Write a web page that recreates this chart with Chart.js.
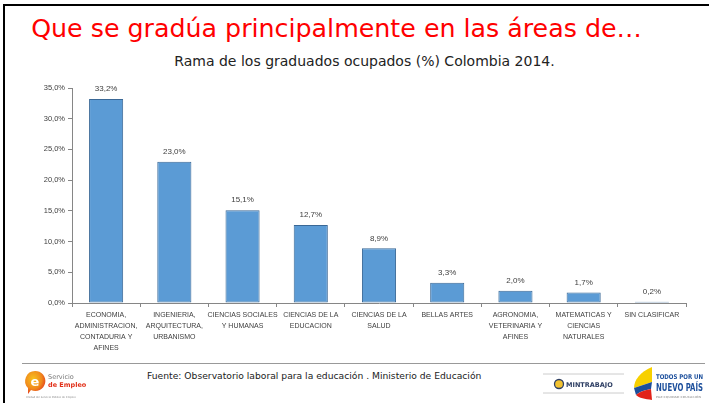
<!DOCTYPE html>
<html>
<head>
<meta charset="utf-8">
<title>Rama de los graduados ocupados</title>
<script src="https://cdn.jsdelivr.net/npm/chart.js"></script>
<style>
    body { margin: 0; width: 709px; height: 403px; background: #fff; position: relative; overflow: hidden; font-family: "DejaVu Sans", sans-serif; }
    .frame-top { position: absolute; left: 3px; top: 4px; width: 706px; height: 2px; background: #000; }
    .frame-left { position: absolute; left: 3px; top: 4px; width: 2px; height: 399px; background: #000; }
    .title { position: absolute; left: 0; width: 673px; top: 14px; text-align: center; color: #ff0000; font-size: 25.3px; white-space: nowrap; }
    .subtitle { position: absolute; left: 0; width: 729px; top: 53px; text-align: center; color: #222; font-size: 14px; white-space: nowrap; }
    #chartBox { position: absolute; left: 12px; top: 70px; width: 688px; height: 290px; }
    .footer-line { position: absolute; left: 22px; top: 363px; width: 683px; height: 1px; background: #999; }
    .source { position: absolute; left: 147px; top: 370px; font-size: 9.2px; color: #222; white-space: nowrap; }
    svg.logos { position: absolute; left: 0; top: 0; }
</style>
</head>
<body>
<div class="frame-top"></div>
<div class="frame-left"></div>
<div class="title">Que se gradúa principalmente en las áreas de…</div>
<div class="subtitle">Rama de los graduados ocupados (%) Colombia 2014.</div>
<div id="chartBox"><canvas id="ramaChart"></canvas></div>
<div class="footer-line"></div>
<div class="source">Fuente: Observatorio laboral para la educación . Ministerio de Educación</div>

<svg class="logos" width="709" height="403">
    <!-- Servicio de Empleo -->
    <defs>
        <radialGradient id="eGrad" cx="40%" cy="35%" r="70%">
            <stop offset="0%" stop-color="#f7c21e"/>
            <stop offset="60%" stop-color="#f08a1c"/>
            <stop offset="100%" stop-color="#e2321b"/>
        </radialGradient>
    </defs>
    <path d="M35 371 a10 10 0 1 1 -4 19 l-3 4 l0 -6 a10 10 0 0 1 7 -17 z" fill="url(#eGrad)"/>
    <text x="35" y="386" font-family="DejaVu Sans" font-weight="bold" font-size="13" fill="#fff" text-anchor="middle">e</text>
    <text x="48" y="379" font-family="DejaVu Sans" font-size="6.5" fill="#777">Servicio</text>
    <text x="48" y="387" font-family="DejaVu Sans" font-weight="bold" font-size="6.5" fill="#e2321b">de Empleo</text>
    <text x="26" y="398" font-family="DejaVu Sans" font-size="2.6" fill="#888">Unidad del Servicio Público de Empleo</text>

    <!-- MINTRABAJO -->
    <line x1="543" y1="374" x2="624" y2="374" stroke="#ccc" stroke-width="1"/>
    <line x1="543" y1="393" x2="624" y2="393" stroke="#ccc" stroke-width="1"/>
    <circle cx="559" cy="384" r="4.5" fill="#f2c230" stroke="#2d3e63" stroke-width="1.3"/>
    <text x="566" y="387" font-family="DejaVu Sans" font-weight="bold" font-size="6.5" fill="#2d3e63">MINTRABAJO</text>

    <!-- Todos por un nuevo país -->
    <path d="M652 367 C640 372 634 380 634 388 L652 382 Z" fill="#f7d000"/>
    <path d="M634 388 L652 382 L651 389 C645 390 639 392 636 395 Z" fill="#1c4f9c"/>
    <path d="M636 395 C639 392 645 390 651 389 L652 400 C645 399 639 398 636 395 Z" fill="#e2231a"/>
    <text x="656" y="379" font-family="DejaVu Sans Condensed, DejaVu Sans" font-weight="bold" font-size="6.5" fill="#1c4f9c" textLength="47" lengthAdjust="spacingAndGlyphs">TODOS POR UN</text>
    <text x="656" y="391" font-family="DejaVu Sans Condensed, DejaVu Sans" font-weight="bold" font-size="10" fill="#1c4f9c" textLength="47" lengthAdjust="spacingAndGlyphs">NUEVO PAÍS</text>
    <text x="656" y="398" font-family="DejaVu Sans" font-size="2.6" fill="#888" textLength="45" lengthAdjust="spacingAndGlyphs">PAZ  EQUIDAD  EDUCACIÓN</text>
</svg>

<script>
    // Categorías (etiquetas en varias líneas) y porcentajes
    const categorias = [
        ['ECONOMIA,', 'ADMINISTRACION,', 'CONTADURIA Y', 'AFINES'],
        ['INGENIERIA,', 'ARQUITECTURA,', 'URBANISMO'],
        ['CIENCIAS SOCIALES', 'Y HUMANAS'],
        ['CIENCIAS DE LA', 'EDUCACION'],
        ['CIENCIAS DE LA', 'SALUD'],
        ['BELLAS ARTES'],
        ['AGRONOMIA,', 'VETERINARIA Y', 'AFINES'],
        ['MATEMATICAS Y', 'CIENCIAS', 'NATURALES'],
        ['SIN CLASIFICAR']
    ];
    const porcentajes = [33.2, 23.0, 15.1, 12.7, 8.9, 3.3, 2.0, 1.7, 0.2];
    const ejeY = { min: 0, max: 35, paso: 5 };

    const fmt = v => v.toFixed(1).replace('.', ',') + '%';
    const chartFont = "'Liberation Sans', Arial, sans-serif";

    // Etiqueta de valor encima de cada barra
    const valueLabels = {
        id: 'valueLabels',
        afterDatasetsDraw(chart) {
            const ctx = chart.ctx;
            const meta = chart.getDatasetMeta(0);
            ctx.save();
            ctx.font = '8px ' + chartFont;
            ctx.fillStyle = '#404040';
            ctx.textAlign = 'center';
            ctx.textBaseline = 'bottom';
            meta.data.forEach((bar, i) => {
                ctx.fillText(fmt(porcentajes[i]), bar.x, bar.y - 6);
            });
            ctx.restore();
        }
    };

    new Chart(document.getElementById('ramaChart'), {
        type: 'bar',
        data: {
            labels: categorias,
            datasets: [{
                data: porcentajes,
                backgroundColor: '#5B9BD5',
                borderColor: '#3A6896',
                borderWidth: 1,
                borderSkipped: false,
                barPercentage: 0.5,
                categoryPercentage: 1.0
            }]
        },
        options: {
            responsive: true,
            maintainAspectRatio: false,
            animation: false,
            layout: { padding: { top: 18, right: 14 } },
            plugins: {
                legend: { display: false },
                tooltip: { enabled: false }
            },
            scales: {
                x: {
                    grid: { offset: true, drawOnChartArea: false, tickLength: 4, color: '#868686' },
                    border: { color: '#868686' },
                    ticks: {
                        autoSkip: false, maxRotation: 0, minRotation: 0, padding: 3,
                        color: '#404040',
                        font: { family: chartFont, size: 7, lineHeight: 1.55 }
                    },
                    afterFit(scale) { scale.height = 57; }
                },
                y: {
                    min: ejeY.min, max: ejeY.max,
                    grid: { drawOnChartArea: false, tickLength: 4, color: '#868686' },
                    border: { color: '#868686' },
                    ticks: {
                        stepSize: ejeY.paso, padding: 3, color: '#404040',
                        font: { family: chartFont, size: 7.5 },
                        callback: v => fmt(v)
                    },
                    afterFit(scale) { scale.width = 60; }
                }
            }
        },
        plugins: [valueLabels]
    });
</script>
</body>
</html>
